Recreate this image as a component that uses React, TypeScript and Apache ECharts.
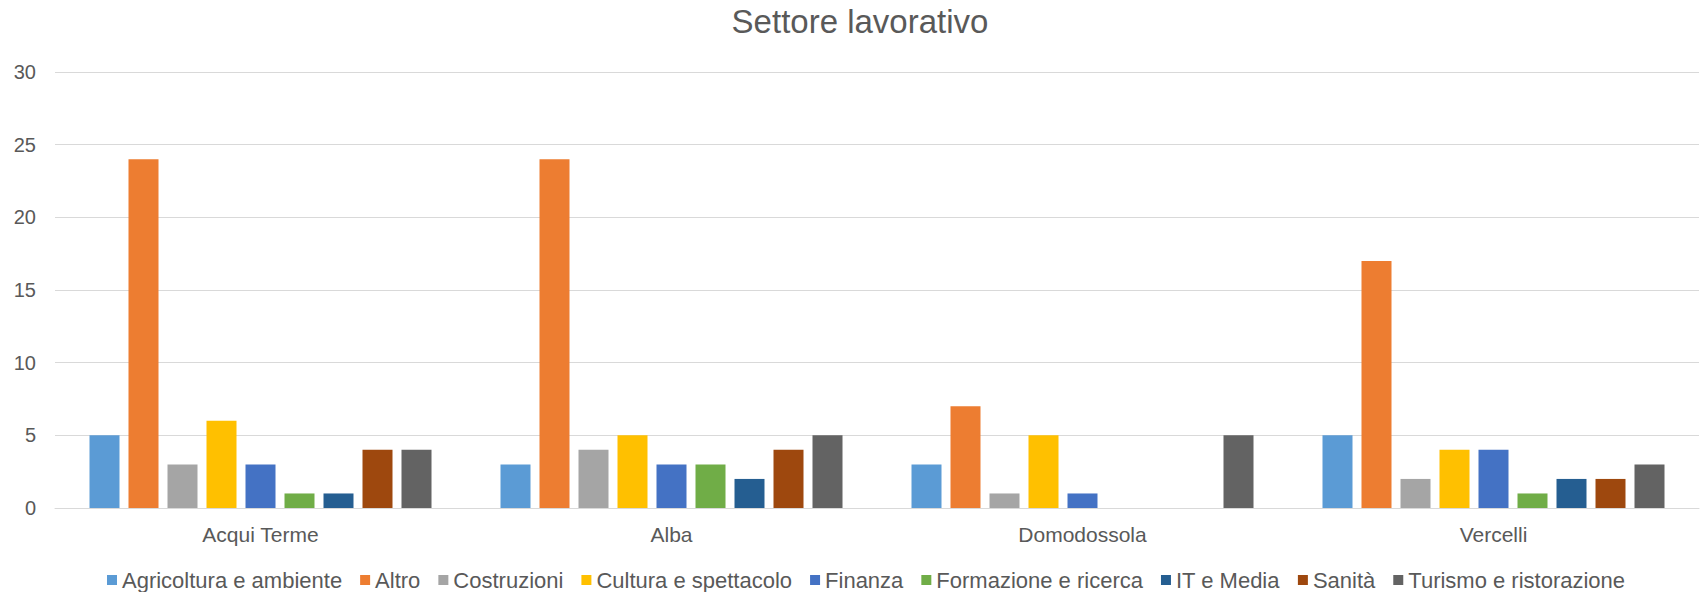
import React, { useEffect, useRef } from "react";
import * as echarts from "echarts";

const title = "Settore lavorativo";
const categories = ["Acqui Terme", "Alba", "Domodossola", "Vercelli"];
const seriesNames = [
  "Agricoltura e ambiente",
  "Altro",
  "Costruzioni",
  "Cultura e spettacolo",
  "Finanza",
  "Formazione e ricerca",
  "IT e Media",
  "Sanità",
  "Turismo e ristorazione",
];
const agricoltura = [5, 3, 3, 5];
const altro = [24, 24, 7, 17];
const costruzioni = [3, 4, 1, 2];
const cultura = [6, 5, 5, 4];
const finanza = [3, 3, 1, 4];
const formazione = [1, 3, 0, 1];
const itMedia = [1, 2, 0, 2];
const sanita = [4, 4, 0, 2];
const turismo = [4, 5, 5, 3];
const seriesValues = [agricoltura, altro, costruzioni, cultura, finanza, formazione, itMedia, sanita, turismo];
const colors = ["#5B9BD5", "#ED7D31", "#A5A5A5", "#FFC000", "#4472C4", "#70AD47", "#255E91", "#9E480E", "#636363"];

const FONT = "'Liberation Sans', Arial, sans-serif";
const TEXT = "#595959";

export default function App() {
  const ref = useRef<HTMLDivElement>(null);
  useEffect(() => {
    document.body.style.margin = "0";
    const chart = echarts.init(ref.current!, null, { renderer: "svg" });
    chart.setOption({
      animation: false,
      color: colors,
      title: {
        text: title,
        left: 860,
        textAlign: "center",
        top: 5,
        padding: 0,
        textStyle: { fontFamily: FONT, fontSize: 33, fontWeight: "normal", color: TEXT },
      },
      legend: {
        data: seriesNames,
        left: 107,
        top: 569,
        padding: 0,
        itemWidth: 10,
        itemHeight: 10,
        itemGap: 18,
        icon: "rect",
        textStyle: { fontFamily: FONT, fontSize: 22, color: TEXT },
      },
      grid: { left: 55, right: 3, top: 72, bottom: 84, containLabel: false },
      xAxis: {
        type: "category",
        data: categories,
        axisLine: { lineStyle: { color: "#D9D9D9", width: 1 } },
        axisTick: { show: false },
        axisLabel: { fontFamily: FONT, fontSize: 21, color: TEXT, margin: 16 },
      },
      yAxis: {
        type: "value",
        min: 0,
        max: 30,
        interval: 5,
        axisLine: { show: false },
        axisTick: { show: false },
        splitLine: { lineStyle: { color: "#D9D9D9", width: 1 } },
        axisLabel: { fontFamily: FONT, fontSize: 20, color: TEXT, margin: 19 },
      },
      series: seriesNames.map((name, i) => ({
        name,
        type: "bar",
        data: seriesValues[i],
        barWidth: 30,
        barGap: "30%",
        itemStyle: { color: colors[i] },
      })),
    });
    return () => chart.dispose();
  }, []);
  return <div ref={ref} style={{ width: 1702, height: 592 }} />;
}
